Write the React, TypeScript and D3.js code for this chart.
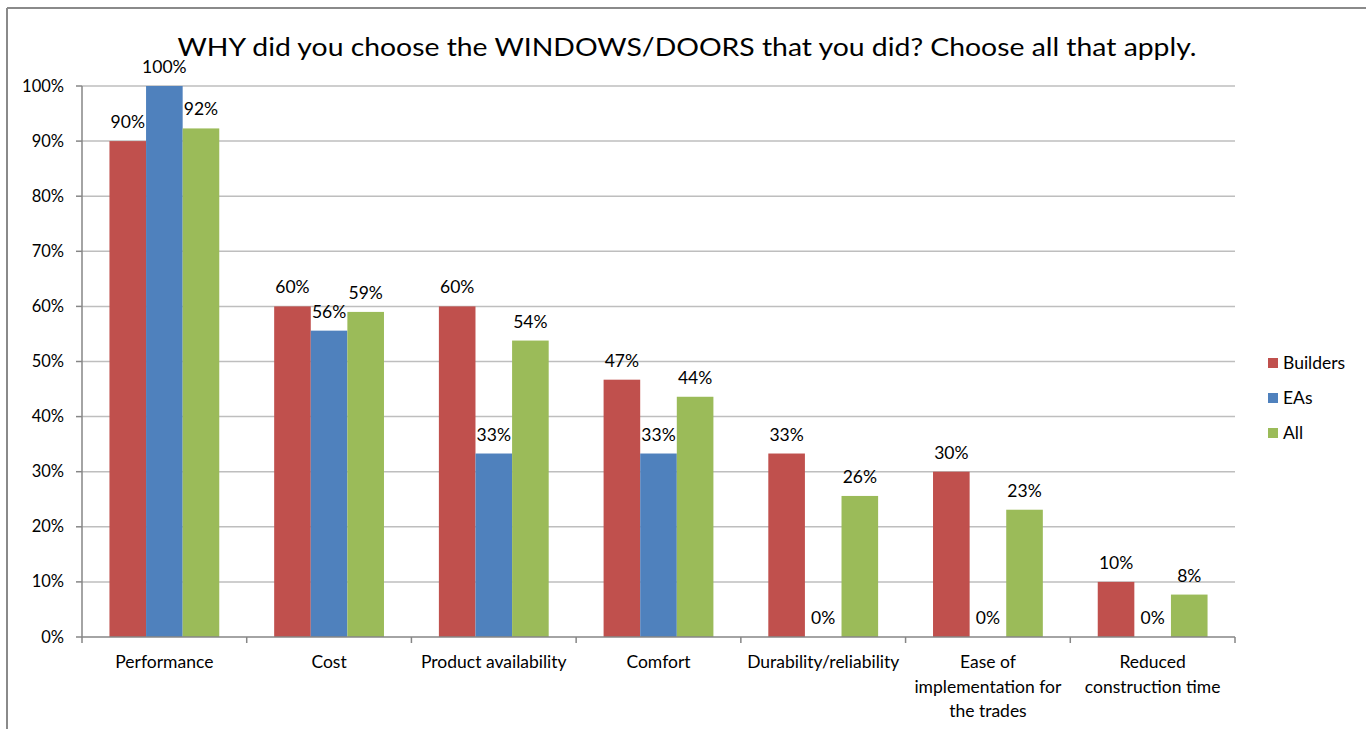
import React from "react";
import * as d3 from "d3";

const categories: string[][] = [
  ["Performance"],
  ["Cost"],
  ["Product availability"],
  ["Comfort"],
  ["Durability/reliability"],
  ["Ease of", "implementation for", "the trades"],
  ["Reduced", "construction time"],
];
const seriesNames = ["Builders", "EAs", "All"];
const builders = [0.9, 0.6, 0.6, 0.467, 0.333, 0.3, 0.1];
const eas = [1.0, 0.556, 0.333, 0.333, 0, 0, 0];
const all = [0.923, 0.59, 0.538, 0.436, 0.256, 0.231, 0.077];
const yTicks = [0, 0.1, 0.2, 0.3, 0.4, 0.5, 0.6, 0.7, 0.8, 0.9, 1.0];
const colors = ["#C0504D", "#4F81BD", "#9BBB59"];
const title = "WHY did you choose the WINDOWS/DOORS that you did? Choose all that apply.";

export default function App() {
  const W = 1366, H = 729;
  const left = 82, right = 1235, top = 86, bottom = 637;
  const font = "Lato, 'Open Sans', sans-serif";
  const series = [builders, eas, all];
  const x = d3.scaleBand<number>().domain(categories.map((_, i) => i)).range([left, right]).paddingInner(0).paddingOuter(0);
  const y = d3.scaleLinear().domain([0, 1]).range([bottom, top]);
  const bw = x.bandwidth();
  const barW = bw / 4.5;
  const fmt = d3.format(".0%");

  return (
    <svg width={W} height={H} style={{ position: "fixed", left: 0, top: 0, background: "#fff" }} fontFamily={font}>
      <rect x={0} y={0} width={W} height={H} fill="#fff" />
      <line x1={7} y1={8} x2={W} y2={8} stroke="#8a8a8a" strokeWidth={2} />
      <line x1={7} y1={8} x2={7} y2={H} stroke="#8a8a8a" strokeWidth={2} />
      <text x={687} y={56} textAnchor="middle" fontSize={25} fill="#000" textLength={1019} lengthAdjust="spacingAndGlyphs">{title}</text>
      {yTicks.map((t) => (
        <g key={t}>
          {t > 0 && <line x1={left} x2={right} y1={y(t)} y2={y(t)} stroke="#BEBEBE" strokeWidth={1.5} />}
          <line x1={left - 6} x2={left} y1={y(t)} y2={y(t)} stroke="#868686" strokeWidth={1.5} />
          <text x={64} y={y(t) + 5.5} textAnchor="end" fontSize={16.5} fill="#000">{fmt(t)}</text>
        </g>
      ))}
      {series.map((vals, s) =>
        vals.map((v, i) => {
          const gx = (x(i) as number) + (bw - 3 * barW) / 2 + barW * s;
          return (
            <g key={`${s}-${i}`}>
              <rect x={gx} y={y(v)} width={barW} height={bottom - y(v)} fill={colors[s]} />
              <text x={gx + barW / 2} y={y(v) - 13} textAnchor="middle" fontSize={17.5} fill="#000">{fmt(v)}</text>
            </g>
          );
        })
      )}
      <line x1={left} x2={right} y1={bottom} y2={bottom} stroke="#868686" strokeWidth={1.5} />
      <line x1={left} x2={left} y1={top} y2={bottom} stroke="#868686" strokeWidth={1.5} />
      {categories.map((_, i) => (
        <line key={i} x1={x(i) as number} x2={x(i) as number} y1={bottom} y2={bottom + 6} stroke="#868686" strokeWidth={1.5} />
      ))}
      <line x1={right} x2={right} y1={bottom} y2={bottom + 6} stroke="#868686" strokeWidth={1.5} />
      {categories.map((lines, i) => (
        <text key={i} textAnchor="middle" fontSize={17.5} fill="#000">
          {lines.map((l, j) => (
            <tspan key={j} x={(x(i) as number) + bw / 2} y={668 + j * 24.5}>{l}</tspan>
          ))}
        </text>
      ))}
      {seriesNames.map((n, s) => (
        <g key={n}>
          <rect x={1268} y={358 + s * 35} width={10} height={10} fill={colors[s]} />
          <text x={1283} y={369 + s * 35} fontSize={17.5} fill="#000">{n}</text>
        </g>
      ))}
    </svg>
  );
}
